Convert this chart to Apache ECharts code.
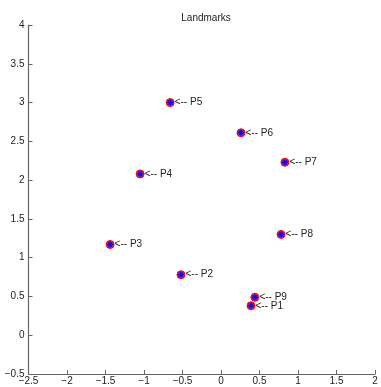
<!DOCTYPE html>
<html><head><meta charset="utf-8">
<script src="https://cdn.jsdelivr.net/npm/echarts@6/dist/echarts.min.js"></script>
<style>html,body{margin:0;padding:0;background:#fff}#c{width:381px;height:387px}</style>
</head><body><div id="c"></div>
<script>
const names = ['P1','P2','P3','P4','P5','P6','P7','P8','P9'];
const xs = [0.39, -0.52, -1.44, -1.05, -0.66, 0.26, 0.83, 0.78, 0.44];
const ys = [0.38, 0.78, 1.17, 2.08, 3.00, 2.61, 2.23, 1.30, 0.49];
const xTicks = [-2.5,-2,-1.5,-1,-0.5,0,0.5,1,1.5,2];
const yTicks = [-0.5,0,0.5,1,1.5,2,2.5,3,3.5,4];
const title = 'Landmarks';

const pts = names.map((n,i)=>({value:[xs[i],ys[i]], name:n}));
const fmt = v => String(v).replace('-', '\u2212');
const font = 'Liberation Sans, Arial, sans-serif';
const star = 'path://M5,0L5,10M0,5L10,5M1.5,1.5L8.5,8.5M8.5,1.5L1.5,8.5';
const chart = echarts.init(document.getElementById('c'));
chart.setOption({
  animation:false,
  title:{text:title, left:201, textAlign:'center', top:8, textStyle:{fontSize:10, fontWeight:'normal', color:'#222', fontFamily:font}},
  grid:{left:28.5, right:6, top:25, bottom:13, containLabel:false},
  xAxis:{type:'value', min:xTicks[0], max:xTicks[xTicks.length-1], interval:0.5,
    splitLine:{show:false},
    axisLine:{onZero:false, lineStyle:{color:'#666', width:1.2}},
    axisTick:{inside:true, length:4, lineStyle:{color:'#666'}},
    axisLabel:{formatter:fmt, fontSize:10, color:'#222', margin:2, fontFamily:font}},
  yAxis:{type:'value', min:yTicks[0], max:yTicks[yTicks.length-1], interval:0.5,
    splitLine:{show:false},
    axisLine:{onZero:false, lineStyle:{color:'#666', width:1.2}},
    axisTick:{inside:true, length:4, lineStyle:{color:'#666'}},
    axisLabel:{formatter:fmt, fontSize:10, color:'#222', margin:4, fontFamily:font}},
  series:[
    {type:'scatter', data:pts, symbol:'circle', symbolSize:8,
     itemStyle:{color:'#ff3030', borderColor:'#ff0000', borderWidth:1, opacity:1},
     label:{show:true, position:'right', distance:0, formatter:p=>'<-- '+p.name, fontSize:10, color:'#222', fontFamily:font}},
    {type:'scatter', data:pts, symbol:'circle', symbolSize:5.5,
     itemStyle:{color:'#1a1aff'}},
    {type:'scatter', data:pts, symbol:star, symbolSize:7,
     itemStyle:{color:'none', borderColor:'#0000ff', borderWidth:1}}
  ]
});
</script></body></html>
